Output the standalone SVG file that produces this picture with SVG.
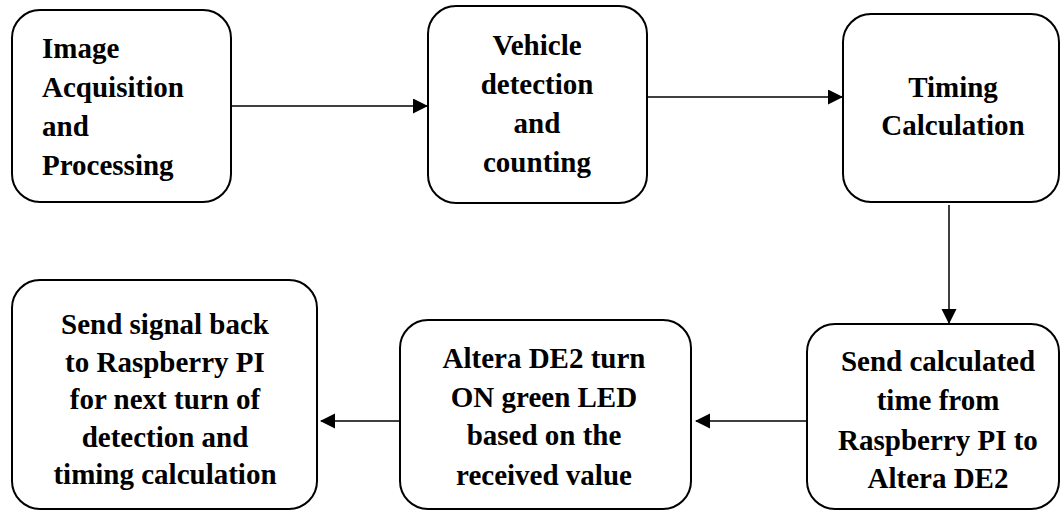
<svg xmlns="http://www.w3.org/2000/svg" width="1062" height="511" viewBox="0 0 1062 511">
<style>
.box{fill:#fff;stroke:#000;stroke-width:2}
.t{font-family:"Liberation Serif","Times New Roman",serif;font-weight:bold;font-size:29px;fill:#000}
.c{text-anchor:middle}
.ln{stroke:#000;stroke-width:1.5;fill:none;marker-end:url(#ah)}
</style>
<defs>
<marker id="ah" markerUnits="userSpaceOnUse" markerWidth="16" markerHeight="16" refX="14" refY="7.5" orient="auto">
<path d="M0,0 L15,7.5 L0,15 z" fill="#000"/>
</marker>
</defs>
<rect width="1062" height="511" fill="#fff"/>
<g id="connectors">
<line class="ln" x1="231" y1="106" x2="427" y2="106"/>
<line class="ln" x1="647" y1="97" x2="842" y2="97"/>
<line class="ln" x1="949" y1="205" x2="949" y2="323"/>
<line class="ln" x1="808" y1="421" x2="696" y2="421"/>
<line class="ln" x1="403" y1="421" x2="321" y2="421"/>
</g>
<g id="n1">
<rect class="box" x="12" y="10" width="219" height="192" rx="28"/>
<text class="t" x="42" y="58">Image</text>
<text class="t" x="42" y="97">Acquisition</text>
<text class="t" x="42" y="136">and</text>
<text class="t" x="42" y="175">Processing</text>
</g>
<g id="n2">
<rect class="box" x="428" y="6" width="219" height="197" rx="28"/>
<text class="t c" x="537" y="55">Vehicle</text>
<text class="t c" x="537" y="94">detection</text>
<text class="t c" x="537" y="133">and</text>
<text class="t c" x="537" y="172">counting</text>
</g>
<g id="n3">
<rect class="box" x="843" y="14" width="216" height="188" rx="28"/>
<text class="t c" x="953" y="97">Timing</text>
<text class="t c" x="953" y="135">Calculation</text>
</g>
<g id="n4">
<rect class="box" x="12" y="280" width="305" height="229" rx="28"/>
<text class="t c" x="165" y="334">Send signal back</text>
<text class="t c" x="165" y="372">to Raspberry PI</text>
<text class="t c" x="165" y="409">for next turn of</text>
<text class="t c" x="165" y="447">detection and</text>
<text class="t c" x="165" y="484">timing calculation</text>
</g>
<g id="n5">
<rect class="box" x="400" y="320" width="291" height="189" rx="28"/>
<text class="t c" x="544" y="368">Altera DE2 turn</text>
<text class="t c" x="544" y="407">ON green LED</text>
<text class="t c" x="544" y="445">based on the</text>
<text class="t c" x="544" y="485">received value</text>
</g>
<g id="n6">
<rect class="box" x="807" y="324" width="252" height="185" rx="28"/>
<text class="t c" x="938" y="371">Send calculated</text>
<text class="t c" x="938" y="410">time from</text>
<text class="t c" x="938" y="450">Raspberry PI to</text>
<text class="t c" x="938" y="488">Altera DE2</text>
</g>
</svg>
